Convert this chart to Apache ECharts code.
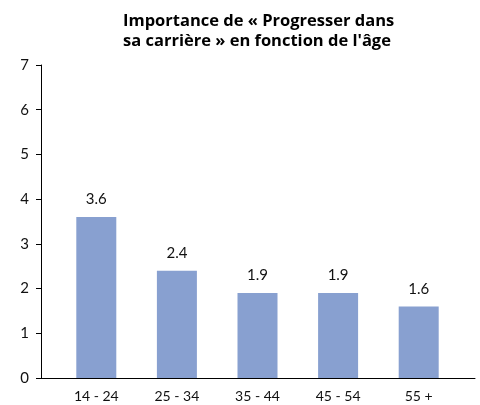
<!DOCTYPE html>
<html>
<head>
<meta charset="utf-8">
<script src="https://cdn.jsdelivr.net/npm/echarts@6/dist/echarts.min.js"></script>
<style>
html, body { margin: 0; padding: 0; background: #fff; }
#chart { width: 480px; height: 405px; }
</style>
</head>
<body>
<div id="chart"></div>
<script>
var categories = ['14 - 24', '25 - 34', '35 - 44', '45 - 54', '55 +'];
var values = [3.6, 2.4, 1.9, 1.9, 1.6];
var yTicks = [0, 1, 2, 3, 4, 5, 6, 7];

var chart = echarts.init(document.getElementById('chart'));
var font = 'Lato, "Open Sans", sans-serif';

var option = {
	animation: false,
	title: {
		text: 'Importance de « Progresser dans\nsa carrière » en fonction de l\'âge',
		left: 118,
		top: 6,
		textStyle: {
			fontFamily: '"Open Sans", sans-serif',
			fontWeight: 'bold',
			fontSize: 16.5,
			lineHeight: 20,
			color: '#000'
		}
	},
	grid: [
		// bars
		{ left: 56, right: 21, top: 65, bottom: 27 },
		// y axis + full axis line
		{ left: 41, right: 5, top: 65, bottom: 27 }
	],
	xAxis: [
		{
			gridIndex: 0,
			type: 'category',
			data: categories,
			axisLine: { show: false },
			axisTick: { show: false },
			axisLabel: { color: '#111', fontSize: 14, fontFamily: font, margin: 11 }
		},
		{
			gridIndex: 1,
			type: 'value',
			min: 0,
			max: 1,
			axisLine: { show: true, lineStyle: { color: '#000', width: 1 } },
			axisTick: { show: false },
			axisLabel: { show: false },
			splitLine: { show: false }
		}
	],
	yAxis: [
		{
			gridIndex: 0,
			type: 'value',
			min: 0,
			max: 7,
			show: false
		},
		{
			gridIndex: 1,
			type: 'value',
			min: yTicks[0],
			max: yTicks[yTicks.length - 1],
			interval: 1,
			axisLine: { show: true, lineStyle: { color: '#000', width: 1 } },
			axisTick: { show: true, length: 5, lineStyle: { color: '#000' } },
			axisLabel: { color: '#111', fontSize: 15, fontFamily: font, margin: 12 },
			splitLine: { show: false }
		}
	],
	series: [{
		type: 'bar',
		xAxisIndex: 0,
		yAxisIndex: 0,
		data: values,
		barWidth: 40,
		itemStyle: { color: '#88a0d0' },
		label: {
			show: true,
			position: 'top',
			distance: 10,
			color: '#111',
			fontSize: 15,
			fontFamily: font
		}
	}]
};
chart.setOption(option);
</script>
</body>
</html>
